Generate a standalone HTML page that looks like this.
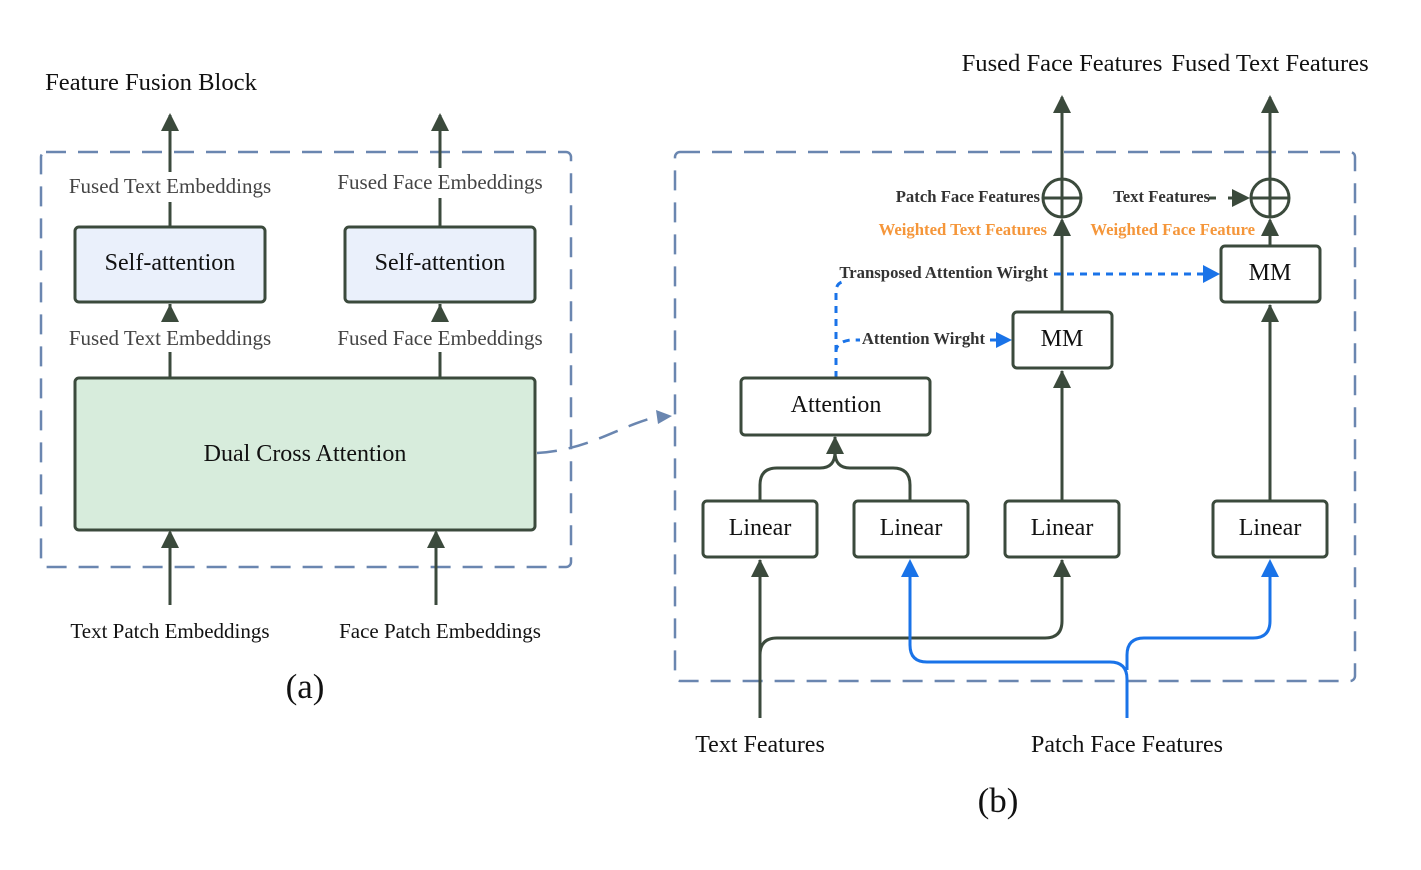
<!DOCTYPE html>
<html><head><meta charset="utf-8"><style>body{margin:0;background:#fff}svg{display:block}</style></head><body>
<svg width="1421" height="870" viewBox="0 0 1421 870" xmlns="http://www.w3.org/2000/svg" font-family="Liberation Serif, serif">
<g fill="none" stroke="#6a86b0" stroke-width="2.5" stroke-dasharray="20 12">
<rect x="41" y="152" width="530" height="415" rx="5"/>
<rect x="675" y="152" width="680" height="529" rx="5"/>
<path d="M537 453 C 590 450, 620 425, 660 416"/>
</g>
<path d="M656 410 L672 416 L658 424 Z" fill="#6a86b0"/>

<g stroke="#3b4a3c" stroke-width="3" fill="none">
<line x1="170" y1="605" x2="170" y2="532"/>
<line x1="436" y1="605" x2="436" y2="532"/>
<line x1="170" y1="378" x2="170" y2="352"/><line x1="170" y1="322" x2="170" y2="304"/>
<line x1="440" y1="378" x2="440" y2="352"/><line x1="440" y1="322" x2="440" y2="304"/>
<line x1="170" y1="227" x2="170" y2="202"/><line x1="170" y1="172" x2="170" y2="115"/>
<line x1="440" y1="227" x2="440" y2="198"/><line x1="440" y1="168" x2="440" y2="115"/>
<line x1="760" y1="718" x2="760" y2="560"/>
<path d="M760 670 L760 655 Q760 638 777 638 L1045 638 Q1062 638 1062 621 L1062 560"/>
<path d="M760 501 L760 485 Q760 468 777 468 L820 468 Q835 468 835 452 M910 501 L910 485 Q910 468 893 468 L850 468 Q835 468 835 452 L835 437"/>
<line x1="1062" y1="501" x2="1062" y2="371"/>
<line x1="1270" y1="501" x2="1270" y2="305"/>
<line x1="1062" y1="312" x2="1062" y2="220"/>
<line x1="1062" y1="179" x2="1062" y2="97"/>
<line x1="1270" y1="246" x2="1270" y2="220"/>
<line x1="1270" y1="179" x2="1270" y2="97"/>
<circle cx="1062" cy="198" r="19"/><line x1="1043" y1="198" x2="1081" y2="198"/><line x1="1062" y1="179" x2="1062" y2="217"/>
<circle cx="1270" cy="198" r="19"/><line x1="1251" y1="198" x2="1289" y2="198"/><line x1="1270" y1="179" x2="1270" y2="217"/>
<line x1="1209" y1="198" x2="1216" y2="198"/><line x1="1228" y1="198" x2="1240" y2="198"/>
</g>
<g fill="#3b4a3c">
<path d="M161 548 L170 530 L179 548Z"/>
<path d="M427 548 L436 530 L445 548Z"/>
<path d="M161 322 L170 304 L179 322Z"/><path d="M431 322 L440 304 L449 322Z"/>
<path d="M161 131 L170 113 L179 131Z"/><path d="M431 131 L440 113 L449 131Z"/>
<path d="M751 577 L760 559 L769 577Z"/><path d="M1053 577 L1062 559 L1071 577Z"/>
<path d="M826 454 L835 436 L844 454Z"/>
<path d="M1053 388 L1062 370 L1071 388Z"/><path d="M1261 322 L1270 304 L1279 322Z"/>
<path d="M1053 236 L1062 218 L1071 236Z"/><path d="M1261 236 L1270 218 L1279 236Z"/>
<path d="M1053 113 L1062 95 L1071 113Z"/><path d="M1261 113 L1270 95 L1279 113Z"/>
<path d="M1232 189 L1250 198 L1232 207Z"/>
</g>
<g stroke="#1a73e8" stroke-width="3" fill="none">
<path d="M910 577 L910 645 Q910 662 927 662 L1110 662 Q1127 662 1127 679 L1127 718"/>
<path d="M1127 670 L1127 655 Q1127 638 1144 638 L1253 638 Q1270 638 1270 621 L1270 577"/>
</g>
<g stroke="#1a73e8" stroke-width="3" fill="none" stroke-dasharray="7 6">
<path d="M836 378 L836 292 Q836 284 842 282"/>
<path d="M836 352 Q836 342 850 340 L860 340"/>
<line x1="1054" y1="274" x2="1205" y2="274"/>
<line x1="990" y1="340" x2="998" y2="340"/>
</g>
<path d="M901 577 L910 559 L919 577Z" fill="#1a73e8"/><path d="M1261 577 L1270 559 L1279 577Z" fill="#1a73e8"/>
<path d="M1203 265 L1220 274 L1203 283Z" fill="#1a73e8"/><path d="M996 332 L1012 340 L996 348Z" fill="#1a73e8"/>

<g stroke="#3b4a3c" stroke-width="3">
<rect x="75" y="227" width="190" height="75" rx="4" fill="#eaf0fb"/>
<rect x="345" y="227" width="190" height="75" rx="4" fill="#eaf0fb"/>
<rect x="75" y="378" width="460" height="152" rx="4" fill="#d7ecdc"/>
<g fill="#fff">
<rect x="741" y="378" width="189" height="57" rx="4"/>
<rect x="703" y="501" width="114" height="56" rx="4"/>
<rect x="854" y="501" width="114" height="56" rx="4"/>
<rect x="1005" y="501" width="114" height="56" rx="4"/>
<rect x="1213" y="501" width="114" height="56" rx="4"/>
<rect x="1013" y="312" width="99" height="56" rx="4"/>
<rect x="1221" y="246" width="99" height="56" rx="4"/>
</g></g>

<g text-anchor="middle" fill="#111">
<text x="151" y="90" font-size="24.6">Feature Fusion Block</text>
<text x="170" y="270" font-size="24">Self-attention</text>
<text x="440" y="270" font-size="24">Self-attention</text>
<text x="305" y="461" font-size="24">Dual Cross Attention</text>
<text x="170" y="638" font-size="21">Text Patch Embeddings</text>
<text x="440" y="638" font-size="21">Face Patch Embeddings</text>
<text x="305" y="698" font-size="35">(a)</text>
<text x="998" y="812" font-size="35">(b)</text>
<text x="760" y="752" font-size="24">Text Features</text>
<text x="1127" y="752" font-size="24">Patch Face Features</text>
<text x="1062" y="71" font-size="24.6">Fused Face Features</text>
<text x="1270" y="71" font-size="24.6">Fused Text Features</text>
<text x="836" y="412" font-size="24">Attention</text>
<text x="760" y="535" font-size="24">Linear</text>
<text x="911" y="535" font-size="24">Linear</text>
<text x="1062" y="535" font-size="24">Linear</text>
<text x="1270" y="535" font-size="24">Linear</text>
<text x="1062" y="346" font-size="24">MM</text>
<text x="1270" y="280" font-size="24">MM</text>
</g>
<g text-anchor="middle" fill="#444" font-size="21">
<text x="170" y="193">Fused Text Embeddings</text>
<text x="440" y="189">Fused Face Embeddings</text>
<text x="170" y="345">Fused Text Embeddings</text>
<text x="440" y="345">Fused Face Embeddings</text>
</g>
<g font-size="16.7" font-weight="bold" fill="#333">
<text x="1040" y="202" text-anchor="end">Patch Face Features</text>
<text x="1210" y="202" text-anchor="end">Text Features</text>
<text x="1048" y="278" text-anchor="end">Transposed Attention Wirght</text>
<text x="985" y="344" text-anchor="end">Attention Wirght</text>
</g>
<g font-size="16.7" font-weight="bold" fill="#f5963a">
<text x="1047" y="235" text-anchor="end">Weighted Text Features</text>
<text x="1255" y="235" text-anchor="end">Weighted Face Feature</text>
</g>
</svg>
</body></html>
